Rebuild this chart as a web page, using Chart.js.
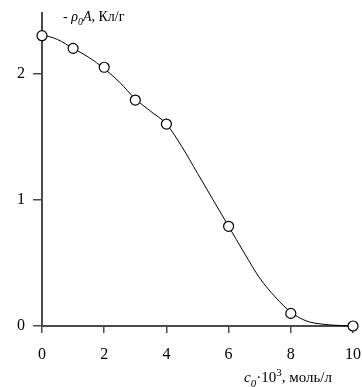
<!DOCTYPE html>
<html>
<head>
<meta charset="utf-8">
<script src="https://cdn.jsdelivr.net/npm/chart.js@4"></script>
<style>
  html, body { margin: 0; padding: 0; background: #fff; }
  #wrap { width: 362px; height: 387px; }
</style>
</head>
<body>
<div id="wrap"><canvas id="chargeChart" width="362" height="387"></canvas></div>
<script>
// measured points
const concentrations = [0, 1, 2, 3, 4, 6, 8, 10];
const charge = [2.3, 2.2, 2.05, 1.79, 1.6, 0.79, 0.1, 0];

// smooth curve drawn through the measurements
const curveX = [0, 0.5, 1, 1.5, 2, 2.5, 3, 3.5, 4, 4.5, 5, 5.5, 6, 6.5, 7, 7.5, 8, 8.5, 9, 9.5, 10];
const curveY = [2.31, 2.27, 2.2, 2.13, 2.04, 1.93, 1.8, 1.7, 1.6, 1.42, 1.21, 1.0, 0.79, 0.58, 0.38, 0.23, 0.11, 0.04, 0.015, 0.005, 0];

const xTicks = [0, 2, 4, 6, 8, 10];
const yTicks = [0, 1, 2];

const AXIS = '#4a4a4a';
const FONT = '"Liberation Serif", "Times New Roman", serif';

// draws a line of text made of runs (italic / subscript / superscript)
function drawRuns(ctx, runs, x, y, size) {
  ctx.save();
  ctx.fillStyle = '#000';
  ctx.textBaseline = 'alphabetic';
  runs.forEach(r => {
    const small = r.sub || r.sup;
    const fs = small ? Math.round(size * 0.7) : size;
    ctx.font = (r.italic ? 'italic ' : '') + fs + 'px ' + FONT;
    const dy = r.sub ? size * 0.3 : (r.sup ? -size * 0.4 : 0);
    ctx.fillText(r.t, x, y + dy);
    x += ctx.measureText(r.t).width;
  });
  ctx.restore();
}

const axisTitles = {
  id: 'axisTitles',
  afterDraw(chart) {
    const ctx = chart.ctx;
    drawRuns(ctx, [
      { t: '- ' },
      { t: 'ρ', italic: true },
      { t: '0', italic: true, sub: true },
      { t: 'A', italic: true },
      { t: ', Кл/г' }
    ], 63, 21, 14);
    drawRuns(ctx, [
      { t: 'c', italic: true },
      { t: '0', italic: true, sub: true },
      { t: '·10' },
      { t: '3', sup: true },
      { t: ', моль/л' }
    ], 244, 382, 15);
  }
};

const ctx = document.getElementById('chargeChart').getContext('2d');
new Chart(ctx, {
  type: 'scatter',
  data: {
    datasets: [
      {
        data: concentrations.map((c, i) => ({ x: c, y: charge[i] })),
        showLine: false,
        clip: false,
        pointRadius: 5,
        pointBackgroundColor: '#fff',
        pointBorderColor: '#000',
        pointBorderWidth: 1.2
      },
      {
        data: curveX.map((c, i) => ({ x: c, y: curveY[i] })),
        showLine: true,
        clip: false,
        pointRadius: 0,
        borderColor: '#000',
        borderWidth: 1,
        cubicInterpolationMode: 'monotone'
      }
    ]
  },
  options: {
    responsive: false,
    animation: false,
    layout: { padding: { top: 13, right: 9, left: 0, bottom: 0 } },
    plugins: { legend: { display: false }, tooltip: { enabled: false } },
    scales: {
      x: {
        type: 'linear',
        min: 0,
        max: 10,
        afterBuildTicks: s => { s.ticks = xTicks.map(v => ({ value: v })); },
        afterFit: s => { s.height = 61; s.paddingLeft = 0; s.paddingRight = 0; },
        border: { display: true, color: AXIS, width: 2 },
        grid: { drawOnChartArea: false, drawTicks: true, tickLength: 7, color: AXIS, lineWidth: 1.5 },
        ticks: { color: '#000', padding: 12, font: { family: FONT, size: 16 }, maxRotation: 0 }
      },
      y: {
        type: 'linear',
        min: 0,
        max: 2.48,
        afterBuildTicks: s => { s.ticks = yTicks.map(v => ({ value: v })); },
        afterFit: s => { s.width = 42; s.paddingTop = 0; s.paddingBottom = 0; },
        border: { display: true, color: AXIS, width: 2 },
        grid: { drawOnChartArea: false, drawTicks: true, tickLength: 9, color: AXIS, lineWidth: 1.5 },
        ticks: { color: '#000', padding: 8, font: { family: FONT, size: 16 } }
      }
    }
  },
  plugins: [axisTitles]
});
</script>
</body>
</html>
